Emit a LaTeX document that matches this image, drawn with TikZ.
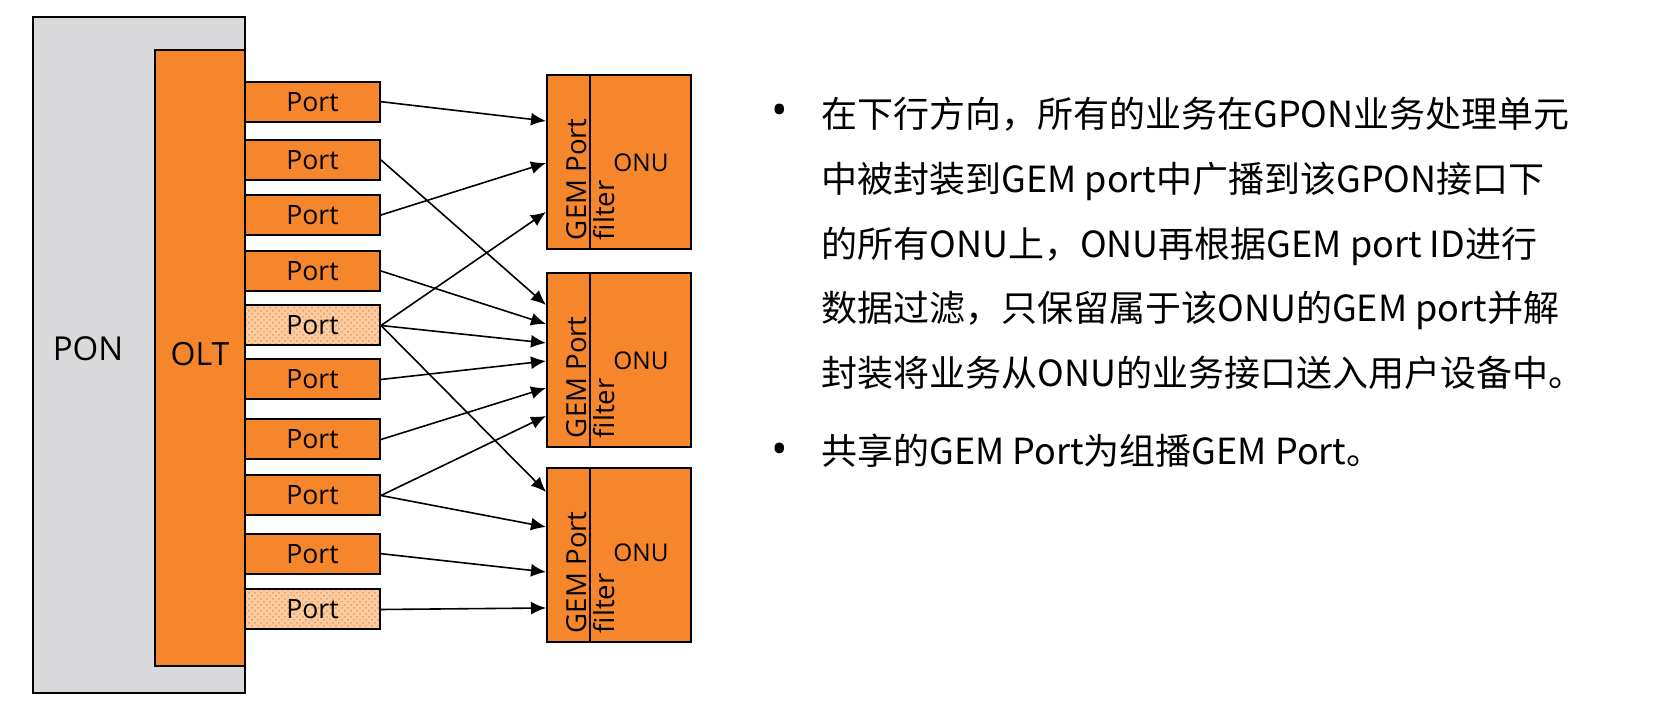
\documentclass[tikz,border=0pt]{standalone}
\usepackage{fontspec}
\setmainfont{Open Sans}
\newfontfamily\cjk{Noto Sans CJK SC}
\usetikzlibrary{patterns}
\usetikzlibrary{arrows.meta}
\definecolor{onuorange}{RGB}{246,134,44}
\definecolor{pongray}{RGB}{217,217,219}
\definecolor{portlight}{RGB}{249,204,164}

\begin{document}
\begin{tikzpicture}[x=0.5pt,y=-0.5pt]
\tikzstyle box=[draw=black, line width=1pt, fill=onuorange];
\tikzstyle port=[box, minimum width=67.5pt, minimum height=20pt, inner sep=0pt, font=\fontsize{13.3}{16}\selectfont];
\tikzstyle sharedport=[port, preaction={fill=portlight}, pattern=crosshatch dots, pattern color=onuorange!85];
\tikzstyle onu=[box, minimum width=72pt, minimum height=87pt, inner sep=0pt];
\tikzstyle gem=[rotate=90, anchor=north west, align=left, inner sep=0pt, font=\fontsize{13.8}{14}\selectfont];
\tikzstyle arr=[-{Latex[length=7.5pt,width=6.5pt]}, line width=0.8pt];
\tikzstyle desc=[anchor=north west, align=left, inner sep=0pt, font=\cjk\fontsize{18}{32.35}\selectfont];
\useasboundingbox (0,0) rectangle (1667,704);
\node[draw=black, line width=1pt, fill=pongray, minimum width=106pt, minimum height=337.6pt] (ponbox) at (139,355.1) {};
\node[box, minimum width=45pt, minimum height=307.85pt] (olt) at (200,357.85) {};
\node[font=\fontsize{16.5}{20}\selectfont] (ponlabel) at (88,349) {PON};
\node[font=\fontsize{16}{20}\selectfont] (oltlabel) at (200,354) {OLT};
\node[port] (p1) at (312.5,101.7) {Port};
\node[port] (p2) at (312.5,160) {Port};
\node[port] (p3) at (312.5,215) {Port};
\node[port] (p4) at (312.5,271) {Port};
\node[sharedport] (p5) at (312.5,325.5) {Port};
\node[port] (p6) at (312.5,379.5) {Port};
\node[port] (p7) at (312.5,439.5) {Port};
\node[port] (p8) at (312.5,495.5) {Port};
\node[port] (p9) at (312.5,553.7) {Port};
\node[sharedport] (p10) at (312.5,609.5) {Port};
\node[onu] (onu1) at (619,162) {};
\node[onu] (onu2) at (619,360) {};
\node[onu] (onu3) at (619,555) {};
\draw[line width=1pt] ([xshift=22pt]onu1.north west) -- ([xshift=22pt]onu1.south west);
\draw[line width=1pt] ([xshift=22pt]onu2.north west) -- ([xshift=22pt]onu2.south west);
\draw[line width=1pt] ([xshift=22pt]onu3.north west) -- ([xshift=22pt]onu3.south west);
\node[font=\fontsize{12.2}{14}\selectfont] (onu1txt) at ([xshift=11pt,yshift=-0.5pt]onu1.center) {ONU};
\node[font=\fontsize{12.2}{14}\selectfont] (onu2txt) at ([xshift=11pt,yshift=-0.5pt]onu2.center) {ONU};
\node[font=\fontsize{12.2}{14}\selectfont] (onu3txt) at ([xshift=11pt,yshift=1pt]onu3.center) {ONU};
\node[gem] (gem1) at ([xshift=10pt,yshift=4.75pt]onu1.south west) {GEM Port\\filter};
\node[gem] (gem2) at ([xshift=10pt,yshift=4.75pt]onu2.south west) {GEM Port\\filter};
\node[gem] (gem3) at ([xshift=10pt,yshift=4.75pt]onu3.south west) {GEM Port\\filter};
\draw[arr] (p1.east) -- (onu1.west |- 0,121);
\draw[arr] (p2.east) -- (onu2.west |- 0,305);
\draw[arr] (p3.east) -- (onu1.west |- 0,163);
\draw[arr] (p4.east) -- (onu2.west |- 0,324);
\draw[arr] (p5.east) -- (onu1.west |- 0,212);
\draw[arr] (p5.east) -- (onu2.west |- 0,343);
\draw[arr] (p5.east) -- (onu3.west |- 0,492);
\draw[arr] (p6.east) -- (onu2.west |- 0,361);
\draw[arr] (p7.east) -- (onu2.west |- 0,388);
\draw[arr] (p8.east) -- (onu2.west |- 0,416);
\draw[arr] (p8.east) -- (onu3.west |- 0,527);
\draw[arr] (p9.east) -- (onu3.west |- 0,572);
\draw[arr] (p10.east) -- (onu3.west |- 0,608);
\node[font=\fontsize{22}{24}\selectfont] (b1) at (780,115) {•};
\node[desc] (t1) at (821,97) {在下行方向，所有的业务在GPON业务处理单元\\中被封装到GEM port中广播到该GPON接口下\\的所有ONU上，ONU再根据GEM port ID进行\\数据过滤，只保留属于该ONU的GEM port并解\\封装将业务从ONU的业务接口送入用户设备中。};
\node[font=\fontsize{22}{24}\selectfont] (b2) at (780,454) {•};
\node[desc] (t2) at (821,434) {共享的GEM Port为组播GEM Port。};
\end{tikzpicture}
\end{document}
